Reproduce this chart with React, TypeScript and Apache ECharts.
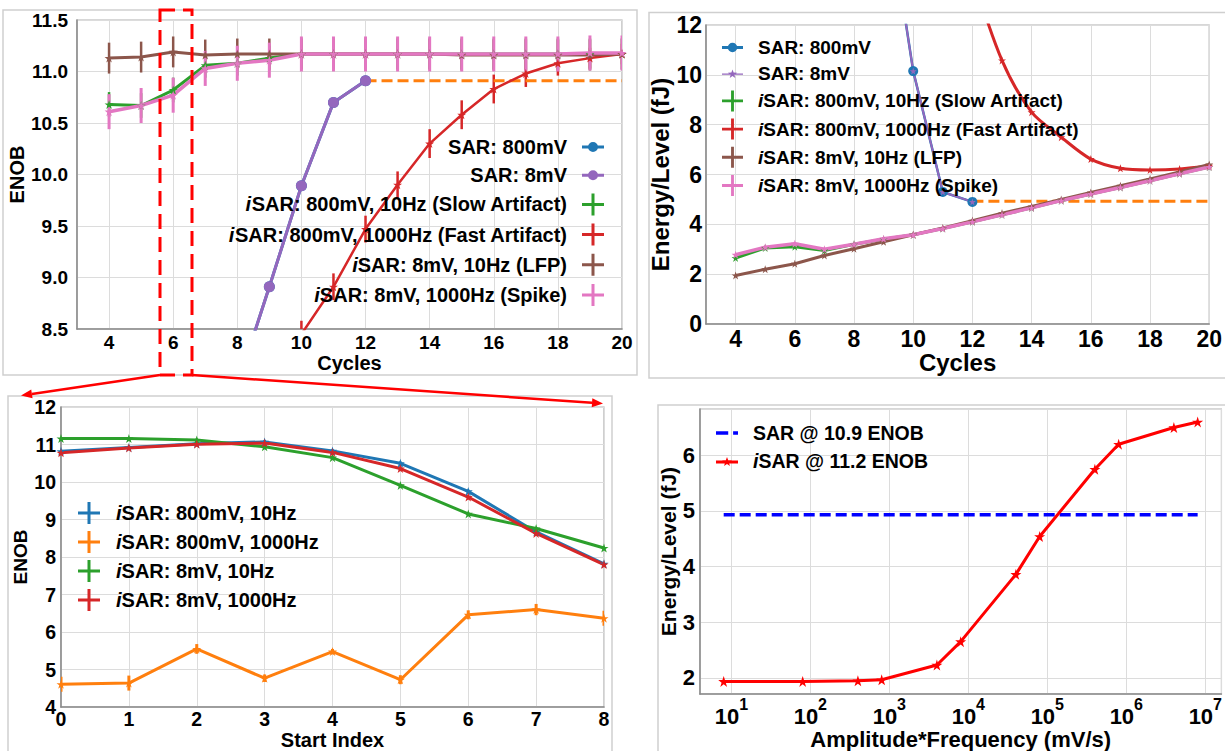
import React, { useEffect, useRef } from "react";
import * as echarts from "echarts";

const FONT = "Liberation Sans, Arial, Helvetica, sans-serif";

// ---------------- Panel A: ENOB vs Cycles ----------------
const cycles = [4, 5, 6, 7, 8, 9, 10, 11, 12, 13, 14, 15, 16, 17, 18, 19, 20];
const sarCycles = [8, 9, 10, 11, 12];
const sarEnob = [7.95, 8.91, 9.89, 10.7, 10.91];
const sarHoldCycles = [12, 20];
const sarHoldEnob = [10.91, 10.91];
const slowEnob = [10.68, 10.67, 10.82, 11.06, 11.08, 11.13, 11.17, 11.17, 11.17, 11.17, 11.17, 11.17, 11.17, 11.17, 11.17, 11.17, 11.17];
const slowErr = [0.12, 0.12, 0.12, 0.12, 0.12, 0.12, 0.15, 0.15, 0.15, 0.15, 0.15, 0.15, 0.15, 0.15, 0.15, 0.15, 0.15];
const fastCycles = [10, 11, 12, 13, 14, 15, 16, 17, 18, 19, 20];
const fastEnob = [8.45, 8.91, 9.47, 9.9, 10.3, 10.58, 10.83, 10.98, 11.08, 11.13, 11.17];
const fastErr = [0.13, 0.13, 0.13, 0.13, 0.14, 0.14, 0.14, 0.13, 0.12, 0.1, 0.1];
const lfpEnob = [11.13, 11.14, 11.19, 11.16, 11.17, 11.17, 11.17, 11.17, 11.17, 11.17, 11.17, 11.16, 11.16, 11.16, 11.16, 11.16, 11.17];
const lfpErr = [0.15, 0.15, 0.15, 0.15, 0.15, 0.15, 0.15, 0.15, 0.15, 0.15, 0.15, 0.15, 0.15, 0.15, 0.15, 0.15, 0.15];
const spikeEnob = [10.61, 10.67, 10.77, 11.03, 11.08, 11.11, 11.17, 11.17, 11.17, 11.17, 11.17, 11.17, 11.17, 11.17, 11.17, 11.18, 11.18];
const spikeErr = [0.17, 0.17, 0.17, 0.17, 0.17, 0.17, 0.17, 0.17, 0.17, 0.17, 0.17, 0.17, 0.17, 0.17, 0.17, 0.17, 0.17];

// ---------------- Panel B: Energy/Level vs Cycles ----------------
const eSarCycles = [9, 10, 11, 12];
const eSar = [17.9, 10.15, 5.3, 4.9];
const eSarHoldCycles = [12, 20];
const eSarHold = [4.93, 4.93];
const eFastCycles = [12, 13, 14, 15, 16, 17, 18, 19, 20];
const eFast = [14.0, 10.58, 8.5, 7.5, 6.62, 6.25, 6.18, 6.22, 6.35];
const eSlow = [2.65, 3.05, 3.1, 2.95, 3.2, 3.4, 3.58, 3.83, 4.1, 4.38, 4.66, 4.95, 5.22, 5.48, 5.75, 6.03, 6.3];
const eLfp = [1.95, 2.2, 2.42, 2.75, 3.02, 3.3, 3.58, 3.85, 4.15, 4.45, 4.72, 5.0, 5.28, 5.55, 5.82, 6.1, 6.4];
const eSpike = [2.78, 3.08, 3.22, 3.0, 3.2, 3.42, 3.58, 3.83, 4.1, 4.38, 4.66, 4.95, 5.22, 5.48, 5.75, 6.03, 6.3];

// ---------------- Panel C: ENOB vs Start Index ----------------
const startIndex = [0, 1, 2, 3, 4, 5, 6, 7, 8];
const r800_10 = [10.82, 10.92, 11.02, 11.07, 10.83, 10.5, 9.75, 8.67, 7.82];
const r800_10Err = [0.05, 0.05, 0.05, 0.05, 0.05, 0.05, 0.05, 0.05, 0.05];
const r800_1000 = [4.61, 4.64, 5.55, 4.77, 5.48, 4.73, 6.46, 6.6, 6.37];
const r800_1000Err = [0.2, 0.2, 0.13, 0.1, 0.07, 0.12, 0.12, 0.15, 0.2];
const r8_10 = [11.16, 11.16, 11.12, 10.94, 10.65, 9.91, 9.15, 8.76, 8.24];
const r8_10Err = [0.04, 0.04, 0.04, 0.04, 0.04, 0.04, 0.04, 0.04, 0.04];
const r8_1000 = [10.78, 10.91, 11.01, 11.04, 10.79, 10.36, 9.6, 8.63, 7.8];
const r8_1000Err = [0.06, 0.06, 0.06, 0.06, 0.06, 0.06, 0.06, 0.06, 0.06];

// ---------------- Panel D: Energy/Level vs Amplitude*Frequency ----------------
const ampFreq = [8, 80, 400, 800, 4000, 8000, 40000, 80000, 400000, 800000, 4000000, 8000000];
const isarEnergy = [1.935, 1.935, 1.947, 1.965, 2.23, 2.65, 3.86, 4.54, 5.75, 6.2, 6.5, 6.6];
const sarRefX = [8, 8000000];
const sarRefEnergy = [4.93, 4.93];

const C = {
  blue: "#1f77b4",
  orange: "#ff7f0e",
  green: "#2ca02c",
  red: "#d62728",
  purple: "#9467bd",
  brown: "#8c564b",
  pink: "#e377c2",
};

const STAR = "path://M50,0L61.2,34.5L97.6,34.5L68.2,55.9L79.4,90.5L50,69.1L20.6,90.5L31.8,55.9L2.4,34.5L38.8,34.5Z";
const STAR_SMALL = "M11,0L12.176,3.382L15.755,3.455L12.902,5.618L13.939,9.045L11,7L8.061,9.045L9.098,5.618L6.245,3.455L9.824,3.382Z";
const ICON_PLUS = "path://M0,9.5H9.5V0H12.5V9.5H22V12.5H12.5V22H9.5V12.5H0Z";
const ICON_LINE_DOT = "path://M0,3.5H22V6.5H0Z M16,5A5,5,0,1,1,6,5A5,5,0,1,1,16,5Z";
const ICON_THIN_STAR = "path://M0,4.25H22V5.75H0Z " + STAR_SMALL;
const ICON_THICK_STAR = "path://M0,3.5H22V6.5H0Z " + STAR_SMALL;
const ICON_DASH = "path://M0,0H10V3H0Z M14,0H18V3H14Z";

const pairs = (xs: number[], ys: number[]) => xs.map((x, i) => [x, ys[i]]);
const triples = (xs: number[], ys: number[], es: number[]) => xs.map((x, i) => [x, ys[i], es[i]]);

function lineSeries(name: string | undefined, idx: number, data: number[][], color: string, opt: any = {}) {
  return {
    type: "line",
    name,
    xAxisIndex: idx,
    yAxisIndex: idx,
    data,
    clip: true,
    symbol: opt.symbol ?? STAR,
    symbolSize: opt.symbolSize ?? 9,
    showSymbol: opt.showSymbol ?? true,
    smooth: opt.smooth ?? false,
    lineStyle: { color, width: opt.width ?? 3, type: opt.dash ?? "solid" },
    itemStyle: { color, borderWidth: 0 },
    emphasis: { disabled: true },
    z: opt.z ?? 2,
  };
}

function errSeries(idx: number, data: number[][], color: string, width = 2.5) {
  return {
    type: "custom",
    xAxisIndex: idx,
    yAxisIndex: idx,
    data,
    clip: true,
    silent: true,
    renderItem: (params: any, api: any) => {
      const x = api.value(0);
      const y = api.value(1);
      const e = api.value(2);
      const p1 = api.coord([x, y - e]);
      const p2 = api.coord([x, y + e]);
      return {
        type: "line",
        shape: { x1: p1[0], y1: p1[1], x2: p2[0], y2: p2[1] },
        style: { stroke: color, lineWidth: width },
      };
    },
  };
}

const tick = (size: number, extra: any = {}) => ({
  fontFamily: FONT,
  fontWeight: "bold",
  fontSize: size,
  color: "#000",
  ...extra,
});

const nameStyle = (size: number) => ({ fontFamily: FONT, fontWeight: "bold", fontSize: size, color: "#000" });

const splitLine = { show: true, lineStyle: { color: "#dcdcdc", width: 1 } };
const axisLine = { show: true, lineStyle: { color: "#8a8a8a", width: 1.5 } };

function legendTextStyle(size: number, padL: number, padR: number) {
  const base = { fontFamily: FONT, fontWeight: "bold", fontSize: size, color: "#000" };
  return {
    ...base,
    rich: {
      i: { ...base, fontStyle: "italic", padding: [0, 0, 0, padL] },
      t: { ...base, padding: [0, padR, 0, 0] },
      s: { ...base, padding: [0, padR, 0, padL] },
    },
  };
}

const legendFormatter = (name: string) =>
  name.startsWith("iSAR") ? `{i|i}{t|${name.slice(1)}}` : `{s|${name}}`;

function arrow(x1: number, y1: number, x2: number, y2: number, color: string) {
  const dx = x2 - x1;
  const dy = y2 - y1;
  const len = Math.sqrt(dx * dx + dy * dy);
  const ux = dx / len;
  const uy = dy / len;
  const hl = 11;
  const hw = 4.5;
  const bx = x2 - ux * hl;
  const by = y2 - uy * hl;
  return [
    { type: "line", shape: { x1, y1, x2: bx, y2: by }, style: { stroke: color, lineWidth: 2.5 }, z: 100 },
    {
      type: "polygon",
      shape: { points: [[x2, y2], [bx - uy * hw, by + ux * hw], [bx + uy * hw, by - ux * hw]] },
      style: { fill: color },
      z: 100,
    },
  ];
}

function buildOption(): any {
  const n1 = {
    sar800: "SAR: 800mV",
    sar8: "SAR: 8mV",
    slow: "iSAR: 800mV, 10Hz (Slow Artifact)",
    fast: "iSAR: 800mV, 1000Hz (Fast Artifact)",
    lfp: "iSAR: 8mV, 10Hz (LFP)",
    spike: "iSAR: 8mV, 1000Hz (Spike)",
  };
  const n3 = {
    a: "iSAR: 800mV, 10Hz",
    b: "iSAR: 800mV, 1000Hz",
    c: "iSAR: 8mV, 10Hz",
    d: "iSAR: 8mV, 1000Hz",
  };
  const n4 = { sar: "SAR @ 10.9 ENOB", isar: "iSAR @ 11.2 ENOB" };

  const series: any[] = [
    // Panel A
    lineSeries(n1.sar800, 0, pairs(sarCycles, sarEnob), C.blue, { symbol: "circle", symbolSize: 11 }),
    lineSeries(n1.sar8, 0, pairs(sarCycles, sarEnob), C.purple, { symbol: "circle", symbolSize: 11 }),
    lineSeries(undefined, 0, pairs(sarHoldCycles, sarHoldEnob), C.orange, { showSymbol: false, symbol: "none", dash: [11, 5] }),
    errSeries(0, triples(cycles, slowEnob, slowErr), C.green),
    lineSeries(n1.slow, 0, pairs(cycles, slowEnob), C.green, {}),
    errSeries(0, triples(fastCycles, fastEnob, fastErr), C.red),
    lineSeries(n1.fast, 0, pairs(fastCycles, fastEnob), C.red, { width: 2.5 }),
    errSeries(0, triples(cycles, lfpEnob, lfpErr), C.brown),
    lineSeries(n1.lfp, 0, pairs(cycles, lfpEnob), C.brown, {}),
    errSeries(0, triples(cycles, spikeEnob, spikeErr), C.pink, 3),
    lineSeries(n1.spike, 0, pairs(cycles, spikeEnob), C.pink, { width: 3.5 }),
    // Panel B
    lineSeries(n1.sar800, 1, pairs(eSarCycles, eSar), C.blue, { symbol: "circle", symbolSize: 10, width: 2.5 }),
    lineSeries(n1.sar8, 1, pairs(eSarCycles, eSar), C.purple, { symbolSize: 7, width: 2 }),
    lineSeries(undefined, 1, pairs(eSarHoldCycles, eSarHold), C.orange, { showSymbol: false, symbol: "none", dash: [11, 5] }),
    lineSeries(n1.slow, 1, pairs(cycles, eSlow), C.green, { symbolSize: 8 }),
    lineSeries(n1.fast, 1, pairs(eFastCycles, eFast), C.red, { symbolSize: 8, smooth: 0.3 }),
    lineSeries(n1.lfp, 1, pairs(cycles, eLfp), C.brown, { symbolSize: 8 }),
    lineSeries(n1.spike, 1, pairs(cycles, eSpike), C.pink, { symbolSize: 8, width: 3.5 }),
    // Panel C
    errSeries(2, triples(startIndex, r800_10, r800_10Err), C.blue),
    lineSeries(n3.a, 2, pairs(startIndex, r800_10), C.blue, {}),
    errSeries(2, triples(startIndex, r800_1000, r800_1000Err), C.orange, 3),
    lineSeries(n3.b, 2, pairs(startIndex, r800_1000), C.orange, {}),
    errSeries(2, triples(startIndex, r8_10, r8_10Err), C.green),
    lineSeries(n3.c, 2, pairs(startIndex, r8_10), C.green, {}),
    errSeries(2, triples(startIndex, r8_1000, r8_1000Err), C.red),
    lineSeries(n3.d, 2, pairs(startIndex, r8_1000), C.red, {}),
    // Panel D
    lineSeries(n4.sar, 3, pairs(sarRefX, sarRefEnergy), "#0000ff", { showSymbol: false, symbol: "none", dash: [11, 5], width: 3.5 }),
    lineSeries(n4.isar, 3, pairs(ampFreq, isarEnergy), "#ff0000", { symbolSize: 11, width: 3 }),
  ];

  const item = (name: string, icon: string, color: string) => ({ name, icon, itemStyle: { color, borderWidth: 0 } });

  const legends = [
    {
      data: [
        item(n1.sar800, ICON_LINE_DOT, C.blue),
        item(n1.sar8, ICON_LINE_DOT, C.purple),
        item(n1.slow, ICON_PLUS, C.green),
        item(n1.fast, ICON_PLUS, C.red),
        item(n1.lfp, ICON_PLUS, C.brown),
        item(n1.spike, ICON_PLUS, C.pink),
      ],
      orient: "vertical",
      align: "right",
      right: 621,
      top: 137,
      itemWidth: 22,
      itemHeight: 22,
      itemGap: 8.2,
      padding: 0,
      selectedMode: false,
      formatter: legendFormatter,
      textStyle: legendTextStyle(20, 0, 10),
    },
    {
      data: [
        item(n1.sar800, ICON_LINE_DOT, C.blue),
        item(n1.sar8, ICON_THIN_STAR, C.purple),
        item(n1.slow, ICON_PLUS, C.green),
        item(n1.fast, ICON_PLUS, C.red),
        item(n1.lfp, ICON_PLUS, C.brown),
        item(n1.spike, ICON_PLUS, C.pink),
      ],
      orient: "vertical",
      align: "left",
      left: 722,
      top: 38,
      itemWidth: 21,
      itemHeight: 22,
      itemGap: 7.2,
      padding: 0,
      selectedMode: false,
      formatter: legendFormatter,
      textStyle: legendTextStyle(19, 10, 0),
    },
    {
      data: [
        item(n3.a, ICON_PLUS, C.blue),
        item(n3.b, ICON_PLUS, C.orange),
        item(n3.c, ICON_PLUS, C.green),
        item(n3.d, ICON_PLUS, C.red),
      ],
      orient: "vertical",
      align: "left",
      left: 78,
      top: 502,
      itemWidth: 22,
      itemHeight: 22,
      itemGap: 7,
      padding: 0,
      selectedMode: false,
      formatter: legendFormatter,
      textStyle: legendTextStyle(20, 11, 0),
    },
    {
      data: [item(n4.sar, ICON_DASH, "#0000ff"), item(n4.isar, ICON_THICK_STAR, "#ff0000")],
      orient: "vertical",
      align: "left",
      left: 716,
      top: 423,
      itemWidth: 22,
      itemHeight: 20,
      itemGap: 8.4,
      padding: 0,
      selectedMode: false,
      formatter: legendFormatter,
      textStyle: legendTextStyle(19.5, 10, 0),
    },
  ];

  const gridBase = { show: true, borderColor: "#b0b0b0", borderWidth: 1.2, backgroundColor: "transparent" };
  const grids = [
    { ...gridBase, left: 77, top: 20, width: 545, height: 309 },
    { ...gridBase, left: 706, top: 25, width: 504, height: 299 },
    { ...gridBase, left: 61, top: 407, width: 543, height: 302 },
    { ...gridBase, left: 700, top: 409, width: 528, height: 290 },
  ];

  const xAxes = [
    {
      gridIndex: 0, type: "value", min: 3, max: 20, splitNumber: 8,
      axisLabel: { ...tick(19), showMinLabel: false, margin: 4 },
      axisTick: { show: false }, axisLine, splitLine,
      name: "Cycles", nameLocation: "middle", nameGap: 22, nameTextStyle: nameStyle(20),
    },
    {
      gridIndex: 1, type: "value", min: 3, max: 20, splitNumber: 8,
      axisLabel: { ...tick(23), showMinLabel: false, margin: 3 },
      axisTick: { show: false }, axisLine, splitLine,
      name: "Cycles", nameLocation: "middle", nameGap: 26, nameTextStyle: nameStyle(24),
    },
    {
      gridIndex: 2, type: "value", min: 0, max: 8, interval: 1,
      axisLabel: { ...tick(19.5), margin: 2 },
      axisTick: { show: false }, axisLine, splitLine,
      name: "Start Index", nameLocation: "middle", nameGap: 20, nameTextStyle: nameStyle(20),
    },
    {
      gridIndex: 3, type: "log", logBase: 10, min: 4.01, max: 1.6e7,
      axisLabel: {
        showMinLabel: false,
        showMaxLabel: false,
        margin: 2,
        formatter: (v: number) => `{b|10}{s|${Math.round(Math.log10(v))}}`,
        rich: {
          b: { ...tick(22), verticalAlign: "bottom", lineHeight: 31 },
          s: { ...tick(16), verticalAlign: "top", lineHeight: 17 },
        },
      },
      axisTick: { show: false }, axisLine, splitLine,
      name: "Amplitude*Frequency (mV/s)", nameLocation: "middle", nameGap: 30, nameTextStyle: nameStyle(22),
    },
  ];

  const yAxes = [
    {
      gridIndex: 0, type: "value", min: 8.5, max: 11.5, splitNumber: 6,
      axisLabel: { ...tick(19), margin: 9, formatter: (v: number) => v.toFixed(1) },
      axisTick: { show: false }, axisLine, splitLine,
      name: "ENOB", nameLocation: "middle", nameGap: 45, nameTextStyle: nameStyle(20),
    },
    {
      gridIndex: 1, type: "value", min: 0, max: 12, interval: 2,
      axisLabel: { ...tick(23), margin: 4 },
      axisTick: { show: false }, axisLine, splitLine,
      name: "Energy/Level (fJ)", nameLocation: "middle", nameGap: 33, nameTextStyle: nameStyle(24),
    },
    {
      gridIndex: 2, type: "value", min: 4, max: 12, interval: 1,
      axisLabel: { ...tick(19.5), margin: 5 },
      axisTick: { show: false }, axisLine, splitLine,
      name: "ENOB", nameLocation: "middle", nameGap: 28, nameTextStyle: nameStyle(19),
    },
    {
      gridIndex: 3, type: "value", min: 1.707, max: 6.833, splitNumber: 5,
      axisLabel: { ...tick(22), margin: 5, showMinLabel: false, showMaxLabel: false },
      axisTick: { show: false }, axisLine, splitLine,
      name: "Energy/Level (fJ)", nameLocation: "middle", nameGap: 20, nameTextStyle: nameStyle(21),
    },
  ];

  const frame = (x: number, y: number, w: number, h: number) => ({
    type: "rect",
    shape: { x, y, width: w, height: h },
    style: { fill: "none", stroke: "#cfcfcf", lineWidth: 1.5 },
    silent: true,
    z: -10,
  });

  const graphic = [
    frame(3, 10, 634, 365),
    frame(649, 12.5, 580, 365.5),
    frame(8, 396, 604, 360),
    frame(658, 405, 570, 350),
    {
      type: "rect",
      shape: { x: 160, y: 10, width: 32, height: 365 },
      style: { fill: "none", stroke: "#ff0000", lineWidth: 3, lineDash: [15, 8] },
      silent: true,
      z: 100,
    },
    ...arrow(160, 375, 21, 395.5, "#ff0000"),
    ...arrow(192, 375, 603, 403.5, "#ff0000"),
  ];

  return {
    animation: false,
    backgroundColor: "#ffffff",
    textStyle: { fontFamily: FONT },
    grid: grids,
    xAxis: xAxes,
    yAxis: yAxes,
    legend: legends,
    series,
    graphic,
  };
}

export default function App() {
  const ref = useRef<HTMLDivElement>(null);
  useEffect(() => {
    const chart = echarts.init(ref.current as HTMLDivElement, null, { renderer: "svg" });
    chart.setOption(buildOption());
    return () => chart.dispose();
  }, []);
  return (
    <div
      ref={ref}
      style={{ position: "fixed", left: 0, top: 0, width: 1225, height: 751, background: "#fff" }}
    />
  );
}
